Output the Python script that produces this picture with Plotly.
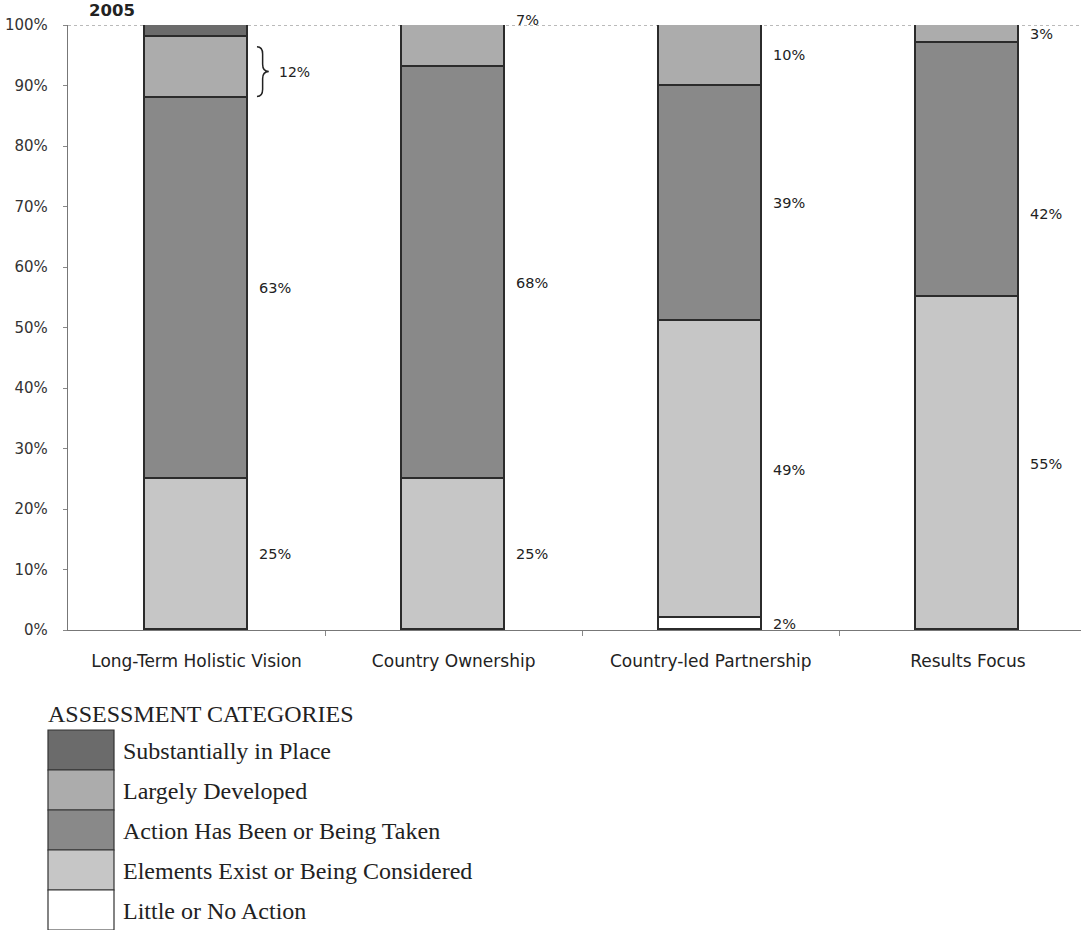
import plotly.graph_objects as go

# Assessment of four principles, share of countries per category (2005)
categories = ["Long-Term Holistic Vision", "Country Ownership",
              "Country-led Partnership", "Results Focus"]
little_or_no_action = [0, 0, 2, 0]
elements_exist = [25, 25, 49, 55]
action_taken = [63, 68, 39, 42]
largely_developed = [10, 7, 10, 3]
substantially_in_place = [2, 0, 0, 0]
y_ticks = [0, 10, 20, 30, 40, 50, 60, 70, 80, 90, 100]
y_tick_text = [f"{v}%" for v in y_ticks]

series = [
    ("Little or No Action", little_or_no_action, "#ffffff"),
    ("Elements Exist or Being Considered", elements_exist, "#c6c6c6"),
    ("Action Has Been or Being Taken", action_taken, "#898989"),
    ("Largely Developed", largely_developed, "#acacac"),
    ("Substantially in Place", substantially_in_place, "#6b6b6b"),
]

SANS = "DejaVu Sans"
SERIF = "Liberation Serif"

xs = list(range(len(categories)))
BAR_W = 0.4
fig = go.Figure()
for name, vals, color in series:
    fig.add_trace(go.Bar(
        x=xs, y=vals, name=name, width=BAR_W,
        marker=dict(color=color, line=dict(color="#2b2b2b", width=1.6)),
        showlegend=False, hoverinfo="skip"))

# segment labels per bar: (segment index, vertical pixel shift)
labels = {
    0: [(1, 0), (2, 0), ("bracket", 0)],
    1: [(1, 0), (2, -10), (3, 26)],
    2: [(0, 0), (1, 0), (2, 0), (3, 0)],
    3: [(1, 0), (2, -44), (3, 0)],
}
annotations = []
shapes = []
for i in xs:
    cum = 0
    bounds = []
    for name, vals, color in series:
        bounds.append((cum, cum + vals[i]))
        cum += vals[i]
    for seg, shift in labels[i]:
        if seg == "bracket":
            lo = bounds[3][0]
            hi = bounds[4][1]
            total = largely_developed[i] + substantially_in_place[i]
            ytop, ybot = hi - 3.6, lo + 0.2
            ymid = (ytop + ybot) / 2
            x0 = i + BAR_W / 2 + 0.035
            x1 = x0 + 0.022
            xt = x1 + 0.024
            d = 1.2
            path = (f"M {x0},{ytop} Q {x1},{ytop} {x1},{ytop - d} "
                    f"L {x1},{ymid + d} Q {x1},{ymid} {xt},{ymid} "
                    f"Q {x1},{ymid} {x1},{ymid - d} "
                    f"L {x1},{ybot + d} Q {x1},{ybot} {x0},{ybot}")
            shapes.append(dict(type="path", path=path, xref="x", yref="y",
                               line=dict(color="#222", width=1.5)))
            annotations.append(dict(x=xt + 0.03, y=ymid, xref="x", yref="y",
                                    text=f"{total}%", showarrow=False,
                                    xanchor="left", yanchor="middle",
                                    font=dict(family=SANS, size=14, color="#222")))
            continue
        lo, hi = bounds[seg]
        val = series[seg][1][i]
        annotations.append(dict(x=i + BAR_W / 2 + 0.035, y=(lo + hi) / 2, yshift=shift,
                                xref="x", yref="y", text=f"{val}%",
                                showarrow=False, xanchor="left", yanchor="middle",
                                font=dict(family=SANS, size=14.5, color="#222")))

# dotted line along the 100% level
shapes.append(dict(type="line", xref="paper", yref="y", x0=0, x1=1, y0=100, y1=100,
                   line=dict(color="#777", width=1.2, dash="dot"), layer="below"))

W, H = 1081, 930
ML, MR, MT, MB = 68, 0, 25, 300


def px(xp):
    return (xp - ML) / (W - ML - MR)


def py(yp):
    return (H - MB - yp) / (H - MT - MB)


# legend drawn as large swatches below the chart
annotations.append(dict(x=px(46), y=py(714), xref="paper", yref="paper",
                        text="ASSESSMENT CATEGORIES",
                        showarrow=False, xanchor="left", yanchor="middle",
                        font=dict(family=SERIF, size=24, color="#222")))
legend_order = ["Substantially in Place", "Largely Developed",
                "Action Has Been or Being Taken",
                "Elements Exist or Being Considered", "Little or No Action"]
colors = {n: c for n, _, c in series}

top = 730
step = 40
for k, name in enumerate(legend_order):
    y0 = top + k * step
    shapes.append(dict(type="rect", xref="paper", yref="paper",
                       x0=px(48), x1=px(114), y0=py(y0), y1=py(y0 + step),
                       fillcolor=colors[name],
                       line=dict(color="#333", width=1.2)))
    annotations.append(dict(x=px(121), y=py(y0 + step / 2 + 1), xref="paper", yref="paper",
                            text=name, showarrow=False, xanchor="left", yanchor="middle",
                            font=dict(family=SERIF, size=24, color="#222")))

annotations.append(dict(x=px(87), y=py(10), xref="paper", yref="paper", text="<b>2005</b>",
                        showarrow=False, xanchor="left", yanchor="middle",
                        font=dict(family=SANS, size=16.5, color="#222")))

fig.update_layout(
    width=W, height=H, barmode="stack", bargap=0,
    margin=dict(l=ML, r=MR, t=MT, b=MB),
    plot_bgcolor="white", paper_bgcolor="white",
    font=dict(family=SANS, size=14, color="#333"),
    shapes=shapes, annotations=annotations,
    xaxis=dict(range=[-0.5, 3.44], tickvals=xs, ticktext=categories,
               ticks="", showgrid=False, zeroline=False,
               showline=True, linecolor="#777", linewidth=1.3,
               tickfont=dict(family=SANS, size=17, color="#222"), ticklabelstandoff=15,
               minor=dict(tickvals=[0.5, 1.5, 2.5], ticks="outside", ticklen=5,
                          tickcolor="#888", showgrid=False)),
    yaxis=dict(range=[0, 100], tickvals=y_ticks, ticktext=y_tick_text,
               ticks="outside", ticklen=4, tickcolor="#888",
               showgrid=False, zeroline=False, ticklabelstandoff=12,
               showline=True, linecolor="#777", linewidth=1.3,
               tickfont=dict(family=SANS, size=15, color="#333")),
)

fig.write_html("out.html")
